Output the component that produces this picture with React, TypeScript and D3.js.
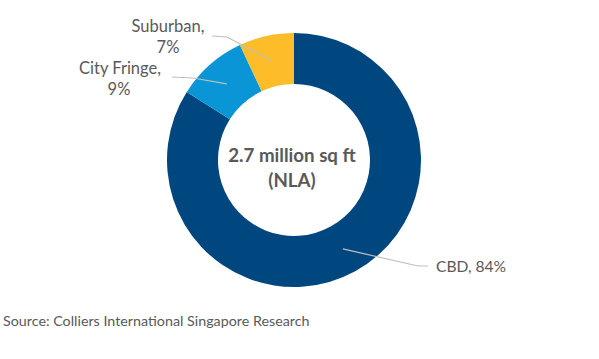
import React from "react";
import * as d3 from "d3";

const categories = ["CBD", "City Fringe", "Suburban"];
const values = [84, 9, 7];
const colors = ["#00467f", "#0a96d6", "#fcbd28"];
const centerLines = ["2.7 million sq ft", "(NLA)"];
const sourceText = "Source: Colliers International Singapore Research";

const W = 599;
const H = 359;
const cx = 294;
const cy = 160;
const outerR = 127;
const innerR = 76;
const FONT = "Lato, 'Open Sans', sans-serif";
const TEXT = "#595959";

const labelLayout: Record<string, { elbow: [number, number]; end: [number, number]; size: number; lines: { x: number; y: number; anchor: string }[] }> = {
  CBD: { elbow: [418, 266], end: [428, 266], size: 15.6, lines: [{ x: 436, y: 272, anchor: "start" }] },
  "City Fringe": { elbow: [193, 78], end: [172, 77], size: 16.5, lines: [{ x: 120, y: 74, anchor: "middle" }, { x: 119, y: 95, anchor: "middle" }] },
  Suburban: { elbow: [227, 37], end: [212, 36], size: 16.5, lines: [{ x: 168, y: 32, anchor: "middle" }, { x: 168, y: 53, anchor: "middle" }] },
};

export default function App() {
  const data = categories.map((c, i) => ({ cat: c, value: values[i], color: colors[i] }));
  const pie = d3.pie<any>().sort(null).value((d) => d.value);
  const arcs = pie(data);
  const arc = d3.arc<any>().innerRadius(innerR).outerRadius(outerR);

  return (
    <svg width={W} height={H} style={{ position: "absolute", left: 0, top: 0, background: "#fff" }}>
      <g transform={`translate(${cx},${cy})`}>
        {arcs.map((a, i) => (
          <path key={i} d={arc(a) as string} fill={a.data.color} />
        ))}
      </g>
      {arcs.map((a, i) => {
        const [x, y] = arc.centroid(a);
        const lay = labelLayout[a.data.cat];
        const txt = a.data.cat === "CBD" ? [`${a.data.cat}, ${a.data.value}%`] : [`${a.data.cat},`, `${a.data.value}%`];
        return (
          <g key={"l" + i}>
            <polyline
              points={`${cx + x},${cy + y} ${lay.elbow[0]},${lay.elbow[1]} ${lay.end[0]},${lay.end[1]}`}
              fill="none"
              stroke="#bfbfbf"
              strokeWidth={1.2}
            />
            {txt.map((t, j) => (
              <text key={j} x={lay.lines[j].x} y={lay.lines[j].y} textAnchor={lay.lines[j].anchor as any} fontFamily={FONT} fontSize={lay.size} fill={TEXT}>
                {t}
              </text>
            ))}
          </g>
        );
      })}
      {centerLines.map((t, i) => (
        <text key={"c" + i} x={cx - 2} y={162 + i * 25} textAnchor="middle" fontFamily={FONT} fontWeight="bold" fontSize={18.7} fill={TEXT}>
          {t}
        </text>
      ))}
      <text x={3} y={326} fontFamily={FONT} fontSize={14.3} fill={TEXT}>
        {sourceText}
      </text>
    </svg>
  );
}
